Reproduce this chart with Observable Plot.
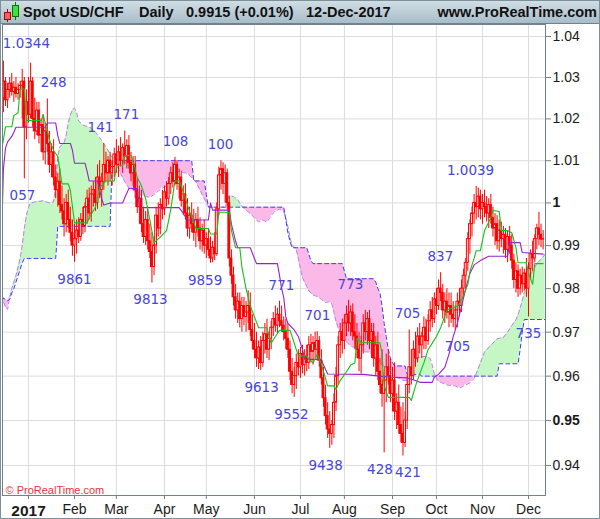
<!DOCTYPE html>
<html><head><meta charset="utf-8">
<script src="https://cdn.jsdelivr.net/npm/d3@7"></script>
<script src="https://cdn.jsdelivr.net/npm/@observablehq/plot@0.6"></script>
<style>
html,body{margin:0;padding:0;background:#fff;}
#wrap{position:relative;width:600px;height:519px;overflow:hidden;font-family:"Liberation Sans",Arial,sans-serif;}
#chart{position:absolute;left:0;top:0;}
#hdr{position:absolute;left:0;top:0;width:600px;height:24px;background:linear-gradient(#d2dfe6,#a8bdc9);border-bottom:1px solid #6f838f;box-sizing:border-box;}
#hdr span{position:absolute;top:3px;line-height:18px;font-weight:bold;font-size:14.5px;color:#111;white-space:nowrap;}
#border{position:absolute;left:0;top:0;width:600px;height:519px;border:1px solid #7d8f99;box-sizing:border-box;pointer-events:none;}
</style></head><body>
<div id="wrap">
<div id="chart"></div>
<div id="hdr">
<svg width="20" height="24" style="position:absolute;left:1px;top:0">
<line x1="6.5" y1="9" x2="6.5" y2="22" stroke="#a00"/>
<rect x="3.5" y="12.5" width="6" height="7" fill="#f06262" stroke="#a00"/>
<line x1="14.5" y1="2" x2="14.5" y2="20" stroke="#070"/>
<rect x="11.5" y="5.5" width="6" height="11" fill="#3fe03f" stroke="#070"/>
</svg>
<span style="left:23px">Spot USD/CHF</span>
<span style="left:139px">Daily</span>
<span style="left:186px">0.9915 (+0.01%)</span>
<span style="left:306px">12-Dec-2017</span>
<span style="right:3px">www.ProRealTime.com</span>
</div>
<div id="border"></div>
</div>
<script>
// trading-day index: 0 = 2 Jan 2017 (first bar = 15 Dec 2016, last = 12 Dec 2017)
const firstIdx = -12, lastIdx = 246;
const opens = [1.0250,1.0290,1.0245,1.0270,1.0285,1.0265,1.0275,1.0260,1.0270,1.0280,1.0290,1.0180,
1.0240,1.0210,1.0290,1.0200,1.0170,1.0220,1.0160,1.0185,1.0120,1.0170,
1.0140,1.0090,1.0120,1.0060,1.0030,1.0050,0.9995,0.9980,0.9950,1.0000,
0.9960,0.9930,0.9900,0.9915,0.9935,0.9920,0.9960,0.9945,0.9990,1.0010,
0.9975,1.0020,1.0030,1.0000,1.0060,1.0030,1.0050,1.0090,1.0070,1.0100,
1.0070,1.0085,1.0115,1.0090,1.0120,1.0100,1.0130,1.0110,1.0135,1.0095,
1.0070,1.0090,1.0030,0.9990,1.0010,0.9950,0.9920,0.9960,0.9910,0.9885,
0.9850,0.9900,0.9970,0.9940,0.9995,0.9985,1.0025,1.0010,1.0045,1.0070,
1.0050,1.0090,1.0045,1.0060,1.0005,1.0020,0.9975,0.9940,0.9970,0.9950,
0.9930,0.9960,0.9940,0.9910,0.9935,0.9900,0.9915,0.9890,0.9870,0.9895,
0.9880,0.9985,1.0065,1.0080,1.0045,1.0070,1.0000,0.9870,0.9830,0.9780,
0.9750,0.9770,0.9730,0.9760,0.9735,0.9745,0.9760,0.9705,0.9680,0.9660,
0.9640,0.9665,0.9630,0.9680,0.9695,0.9660,0.9685,0.9710,0.9730,0.9715,
0.9740,0.9725,0.9715,0.9700,0.9685,0.9660,0.9610,0.9580,0.9600,0.9630,
0.9620,0.9650,0.9625,0.9645,0.9630,0.9670,0.9655,0.9675,0.9660,0.9680,
0.9635,0.9595,0.9550,0.9510,0.9480,0.9470,0.9490,0.9540,0.9600,0.9670,
0.9700,0.9680,0.9720,0.9740,0.9720,0.9745,0.9700,0.9690,0.9660,0.9640,
0.9670,0.9720,0.9700,0.9730,0.9680,0.9700,0.9640,0.9670,0.9610,0.9580,
0.9560,0.9590,0.9620,0.9600,0.9560,0.9590,0.9520,0.9540,0.9490,0.9470,
0.9450,0.9500,0.9580,0.9620,0.9600,0.9660,0.9640,0.9690,0.9670,0.9690,
0.9710,0.9680,0.9725,0.9750,0.9730,0.9775,0.9760,0.9800,0.9790,0.9750,
0.9770,0.9745,0.9760,0.9740,0.9730,0.9750,0.9770,0.9760,0.9800,0.9830,
0.9860,0.9915,0.9950,0.9975,1.0000,0.9990,1.0015,0.9985,1.0000,0.9990,
0.9975,0.9995,0.9965,0.9940,0.9950,0.9910,0.9935,0.9915,0.9925,0.9890,
0.9920,0.9900,0.9865,0.9820,0.9840,0.9800,0.9830,0.9810,0.9835,0.9800,
0.9845,0.9880,0.9870,0.9915,0.9940,0.9925,0.9914];
const highs = [1.0340,1.0300,1.0285,1.0300,1.0310,1.0290,1.0300,1.0285,1.0290,1.0320,1.0300,1.0270,
1.0300,1.0335,1.0300,1.0250,1.0240,1.0240,1.0200,1.0210,1.0190,1.0248,
1.0170,1.0140,1.0150,1.0090,1.0070,1.0080,1.0040,1.0010,1.0020,1.0030,
0.9990,0.9960,0.9950,0.9960,0.9965,0.9975,0.9990,1.0000,1.0030,1.0035,
1.0040,1.0050,1.0060,1.0090,1.0100,1.0070,1.0141,1.0120,1.0110,1.0120,
1.0100,1.0130,1.0150,1.0135,1.0155,1.0140,1.0171,1.0150,1.0160,1.0120,
1.0110,1.0110,1.0060,1.0040,1.0030,0.9990,0.9980,0.9985,0.9950,0.9930,
0.9920,0.9990,1.0000,1.0010,1.0030,1.0040,1.0050,1.0060,1.0085,1.0095,
1.0108,1.0100,1.0080,1.0075,1.0040,1.0045,1.0010,0.9990,1.0000,0.9985,
0.9975,0.9990,0.9965,0.9950,0.9960,0.9930,0.9940,0.9920,0.9910,0.9930,
1.0000,1.0085,1.0100,1.0095,1.0090,1.0080,1.0015,0.9890,0.9850,0.9810,
0.9790,0.9790,0.9780,0.9780,0.9770,0.9795,0.9790,0.9740,0.9720,0.9700,
0.9680,0.9690,0.9700,0.9720,0.9730,0.9700,0.9725,0.9745,0.9760,0.9755,
0.9771,0.9760,0.9735,0.9730,0.9720,0.9680,0.9640,0.9620,0.9650,0.9660,
0.9665,0.9670,0.9660,0.9670,0.9690,0.9695,0.9690,0.9700,0.9701,0.9690,
0.9660,0.9620,0.9580,0.9540,0.9520,0.9500,0.9560,0.9620,0.9690,0.9720,
0.9730,0.9740,0.9760,0.9773,0.9760,0.9765,0.9740,0.9720,0.9700,0.9690,
0.9740,0.9750,0.9745,0.9750,0.9720,0.9720,0.9690,0.9700,0.9640,0.9660,
0.9600,0.9650,0.9660,0.9640,0.9620,0.9630,0.9560,0.9580,0.9530,0.9540,
0.9520,0.9600,0.9705,0.9660,0.9680,0.9700,0.9710,0.9720,0.9700,0.9735,
0.9730,0.9740,0.9770,0.9780,0.9790,0.9800,0.9820,0.9837,0.9810,0.9790,
0.9800,0.9790,0.9790,0.9770,0.9760,0.9790,0.9800,0.9820,0.9845,0.9870,
0.9930,0.9960,0.9990,1.0020,1.0039,1.0035,1.0030,1.0020,1.0030,1.0015,
1.0010,1.0020,0.9990,0.9975,0.9970,0.9960,0.9955,0.9945,0.9940,0.9935,
0.9945,0.9925,0.9880,0.9860,0.9855,0.9845,0.9850,0.9845,0.9870,0.9860,
0.9890,0.9910,0.9925,0.9950,0.9978,0.9950,0.9935];
const lows = [1.0215,1.0230,1.0225,1.0250,1.0255,1.0240,1.0250,1.0245,1.0250,1.0200,1.0057,1.0150,
1.0190,1.0200,1.0180,1.0150,1.0160,1.0140,1.0120,1.0100,1.0090,1.0120,
1.0070,1.0060,1.0040,1.0010,0.9990,0.9975,0.9960,0.9920,0.9930,0.9940,
0.9910,0.9875,0.9861,0.9880,0.9905,0.9910,0.9925,0.9930,0.9950,0.9960,
0.9955,0.9990,0.9980,0.9985,1.0010,0.9990,1.0030,1.0050,1.0040,1.0050,
1.0040,1.0060,1.0070,1.0060,1.0085,1.0070,1.0090,1.0080,1.0080,1.0050,
1.0040,1.0010,0.9975,0.9950,0.9930,0.9905,0.9900,0.9890,0.9870,0.9813,
0.9830,0.9880,0.9920,0.9925,0.9960,0.9970,0.9990,0.9995,1.0020,1.0035,
1.0040,1.0030,1.0010,0.9990,0.9970,0.9960,0.9920,0.9915,0.9930,0.9910,
0.9895,0.9920,0.9890,0.9885,0.9880,0.9870,0.9875,0.9859,0.9860,0.9865,
0.9875,0.9970,1.0030,1.0020,1.0000,0.9985,0.9850,0.9810,0.9760,0.9730,
0.9720,0.9710,0.9700,0.9715,0.9700,0.9720,0.9690,0.9660,0.9640,0.9620,
0.9615,0.9613,0.9620,0.9650,0.9640,0.9635,0.9660,0.9690,0.9700,0.9695,
0.9710,0.9700,0.9680,0.9660,0.9640,0.9590,0.9560,0.9552,0.9570,0.9600,
0.9595,0.9605,0.9600,0.9610,0.9615,0.9630,0.9625,0.9640,0.9635,0.9620,
0.9580,0.9530,0.9490,0.9460,0.9438,0.9445,0.9460,0.9520,0.9580,0.9640,
0.9650,0.9660,0.9690,0.9700,0.9690,0.9680,0.9660,0.9640,0.9610,0.9605,
0.9650,0.9680,0.9670,0.9660,0.9640,0.9620,0.9600,0.9590,0.9560,0.9530,
0.9428,0.9540,0.9580,0.9540,0.9520,0.9500,0.9480,0.9470,0.9450,0.9421,
0.9440,0.9480,0.9560,0.9580,0.9590,0.9620,0.9630,0.9650,0.9640,0.9660,
0.9660,0.9670,0.9700,0.9710,0.9720,0.9740,0.9750,0.9770,0.9730,0.9720,
0.9730,0.9710,0.9720,0.9710,0.9705,0.9710,0.9735,0.9745,0.9780,0.9800,
0.9840,0.9880,0.9920,0.9950,0.9960,0.9965,0.9960,0.9950,0.9965,0.9955,
0.9940,0.9950,0.9920,0.9900,0.9890,0.9885,0.9895,0.9880,0.9870,0.9860,
0.9880,0.9845,0.9800,0.9790,0.9780,0.9785,0.9790,0.9795,0.9780,0.9735,
0.9820,0.9840,0.9860,0.9890,0.9900,0.9895,0.9890];
const closes = [1.0290,1.0245,1.0270,1.0285,1.0265,1.0275,1.0260,1.0270,1.0280,1.0290,1.0180,1.0240,
1.0210,1.0290,1.0200,1.0170,1.0220,1.0160,1.0185,1.0120,1.0170,1.0140,
1.0090,1.0120,1.0060,1.0030,1.0050,0.9995,0.9980,0.9950,1.0000,0.9960,
0.9930,0.9900,0.9915,0.9935,0.9920,0.9960,0.9945,0.9990,1.0010,0.9975,
1.0020,1.0030,1.0000,1.0060,1.0030,1.0050,1.0090,1.0070,1.0100,1.0070,
1.0085,1.0115,1.0090,1.0120,1.0100,1.0130,1.0110,1.0135,1.0095,1.0070,
1.0090,1.0030,0.9990,1.0010,0.9950,0.9920,0.9960,0.9910,0.9885,0.9850,
0.9900,0.9970,0.9940,0.9995,0.9985,1.0025,1.0010,1.0045,1.0070,1.0050,
1.0090,1.0045,1.0060,1.0005,1.0020,0.9975,0.9940,0.9970,0.9950,0.9930,
0.9960,0.9940,0.9910,0.9935,0.9900,0.9915,0.9890,0.9870,0.9895,0.9880,
0.9985,1.0065,1.0080,1.0045,1.0070,1.0000,0.9870,0.9830,0.9780,0.9750,
0.9770,0.9730,0.9760,0.9735,0.9745,0.9760,0.9705,0.9680,0.9660,0.9640,
0.9665,0.9630,0.9680,0.9695,0.9660,0.9685,0.9710,0.9730,0.9715,0.9740,
0.9725,0.9715,0.9700,0.9685,0.9660,0.9610,0.9580,0.9600,0.9630,0.9620,
0.9650,0.9625,0.9645,0.9630,0.9670,0.9655,0.9675,0.9660,0.9680,0.9635,
0.9595,0.9550,0.9510,0.9480,0.9470,0.9490,0.9540,0.9600,0.9670,0.9700,
0.9680,0.9720,0.9740,0.9720,0.9745,0.9700,0.9690,0.9660,0.9640,0.9670,
0.9720,0.9700,0.9730,0.9680,0.9700,0.9640,0.9670,0.9610,0.9580,0.9560,
0.9590,0.9620,0.9600,0.9560,0.9590,0.9520,0.9540,0.9490,0.9470,0.9450,
0.9500,0.9580,0.9620,0.9600,0.9660,0.9640,0.9690,0.9670,0.9690,0.9710,
0.9680,0.9725,0.9750,0.9730,0.9775,0.9760,0.9800,0.9790,0.9750,0.9770,
0.9745,0.9760,0.9740,0.9730,0.9750,0.9770,0.9760,0.9800,0.9830,0.9860,
0.9915,0.9950,0.9975,1.0000,0.9990,1.0015,0.9985,1.0000,0.9990,0.9975,
0.9995,0.9965,0.9940,0.9950,0.9910,0.9935,0.9915,0.9925,0.9890,0.9920,
0.9900,0.9865,0.9820,0.9840,0.9800,0.9830,0.9810,0.9835,0.9800,0.9845,
0.9880,0.9870,0.9915,0.9940,0.9925,0.9914,0.9915];

// Tenkan-sen (green) and Kijun-sen (purple)
const tenkanIdx = [-13,-12,-11,-8,-7,-5,-4,-2,-1,6,7,8,10,12,14,16,19,20,22,28,29,32,34,37,41,42,45,46,49,50,52,54,56,58,60,63,66,68,70,72,73,75,77,79,80,86,87,90,91,96,97,99,101,102,104,106,108,110,114,115,116,118,120,125,126,128,129,133,134,136,138,140,143,146,147,149,152,154,156,157,159,168,169,170,172,182,183,185,187,189,191,193,195,197,200,205,206,208,210,211,213,214,216,218,221,222,225,226,229,231,233,234,238,239,241,242,246];
const tenkanVal = [1.0120,1.0150,1.0181,1.0181,1.0208,1.0215,1.0272,1.0272,1.0196,1.0196,1.0210,1.0190,1.0150,1.0124,1.0110,1.0045,1.0045,1.0030,0.9953,0.9953,0.9965,0.9990,1.0036,1.0052,1.0052,1.0088,1.0088,1.0112,1.0112,1.0100,1.0060,1.0040,1.0010,0.9960,0.9907,0.9920,0.9935,0.9985,1.0052,1.0052,1.0040,1.0010,0.9980,0.9955,0.9940,0.9940,0.9927,0.9927,0.9978,0.9978,0.9935,0.9895,0.9895,0.9850,0.9800,0.9760,0.9735,0.9710,0.9710,0.9690,0.9675,0.9690,0.9704,0.9704,0.9690,0.9660,0.9646,0.9646,0.9638,0.9630,0.9650,0.9627,0.9578,0.9578,0.9570,0.9590,0.9610,0.9625,0.9630,0.9686,0.9676,0.9676,0.9650,0.9578,0.9552,0.9552,0.9545,0.9578,0.9605,0.9630,0.9660,0.9675,0.9690,0.9710,0.9750,0.9760,0.9765,0.9785,0.9810,0.9840,0.9870,0.9888,0.9888,0.9935,0.9965,0.9982,0.9980,0.9935,0.9935,0.9930,0.9895,0.9860,0.9860,0.9835,0.9810,0.9858,0.9858];
const kijunIdx = [-13,-12,-11,-10,-8,-7,-6,8,9,13,14,15,20,21,22,27,28,29,33,34,35,36,39,45,46,48,52,53,72,74,76,86,87,88,96,97,99,100,106,108,109,119,120,121,122,123,124,127,129,131,132,140,141,142,143,160,168,172,181,185,187,193,194,196,199,201,203,205,207,209,211,213,216,220,229,230,235,236,246];
const kijunVal = [0.9890,1.0080,1.0130,1.0145,1.0158,1.0168,1.0180,1.0180,1.0190,1.0190,1.0160,1.0141,1.0141,1.0125,1.0094,1.0094,1.0075,1.0052,1.0052,1.0030,1.0010,0.9995,1.0000,1.0000,1.0012,1.0034,1.0034,0.9989,0.9989,0.9975,0.9960,0.9960,1.0000,0.9983,0.9983,0.9950,0.9910,0.9895,0.9895,0.9870,0.9858,0.9858,0.9830,0.9800,0.9780,0.9735,0.9720,0.9705,0.9690,0.9660,0.9638,0.9638,0.9625,0.9615,0.9605,0.9604,0.9600,0.9598,0.9596,0.9590,0.9586,0.9586,0.9598,0.9604,0.9620,0.9650,0.9690,0.9720,0.9760,0.9800,0.9835,0.9855,0.9865,0.9875,0.9875,0.9907,0.9907,0.9884,0.9880];

// Senkou span A (violet dashed) and span B (blue dashed), plotted shifted forward
const cloudIdx = [-13,-12,-11,-10,-9,-8,-7,-6,-5,-4,-3,-2,-1,0,1,4,7,10,12,13,14,15,17,18,19,20,21,22,23,24,26,28,30,32,34,36,38,39,40,41,42,44,46,48,50,52,54,56,58,60,62,64,66,68,70,72,74,76,78,79,80,82,84,85,86,88,94,95,96,98,100,102,104,106,108,110,112,114,116,118,120,122,123,124,125,126,128,129,130,131,132,133,134,135,136,138,140,142,144,145,146,147,148,149,150,151,152,154,156,158,160,163,165,166,167,168,169,170,171,172,173,174,175,177,179,180,181,182,183,184,186,187,188,190,192,193,194,195,196,200,204,206,208,211,213,214,216,218,221,224,225,227,229,231,233,234,235,236,237,239,241,243,245,247];
const spanA = [0.9800,0.9770,0.9757,0.9752,0.9780,0.9800,0.9815,0.9830,0.9850,0.9870,0.9900,0.9940,0.9970,0.9990,1.0000,1.0003,1.0005,1.0000,1.0002,1.0040,1.0110,1.0133,1.0143,1.0160,1.0190,1.0210,1.0222,1.0226,1.0215,1.0195,1.0185,1.0182,1.0178,1.0168,1.0155,1.0140,1.0125,1.0115,1.0108,1.0100,1.0090,1.0070,1.0050,1.0035,1.0030,1.0025,1.0018,1.0015,1.0013,1.0020,1.0028,1.0035,1.0040,1.0060,1.0070,1.0075,1.0072,1.0070,1.0060,1.0055,1.0050,1.0030,1.0010,1.0000,0.9992,0.9990,0.9990,1.0005,1.0018,1.0015,1.0008,0.9992,0.9983,0.9975,0.9965,0.9955,0.9960,0.9955,0.9970,0.9982,0.9985,0.9980,0.9965,0.9945,0.9920,0.9900,0.9890,0.9870,0.9845,0.9825,0.9815,0.9805,0.9795,0.9790,0.9785,0.9782,0.9775,0.9768,0.9770,0.9765,0.9745,0.9725,0.9710,0.9700,0.9690,0.9685,0.9678,0.9668,0.9665,0.9660,0.9655,0.9655,0.9645,0.9640,0.9635,0.9630,0.9625,0.9620,0.9615,0.9612,0.9608,0.9604,0.9600,0.9595,0.9590,0.9590,0.9590,0.9598,0.9610,0.9630,0.9642,0.9643,0.9644,0.9645,0.9640,0.9625,0.9605,0.9595,0.9588,0.9580,0.9578,0.9573,0.9578,0.9585,0.9595,0.9605,0.9630,0.9655,0.9670,0.9685,0.9686,0.9688,0.9700,0.9715,0.9728,0.9740,0.9755,0.9772,0.9790,0.9825,0.9840,0.9858,0.9868,0.9880];
const spanB = [0.9780,0.9778,0.9775,0.9772,0.9775,0.9790,0.9800,0.9815,0.9830,0.9845,0.9860,0.9870,0.9870,0.9870,0.9870,0.9870,0.9870,0.9870,0.9870,0.9870,0.9945,0.9945,0.9945,0.9945,0.9945,0.9945,0.9945,0.9945,0.9945,0.9945,0.9945,0.9945,0.9945,0.9945,0.9945,0.9945,0.9945,0.9945,1.0100,1.0100,1.0100,1.0100,1.0100,1.0100,1.0100,1.0100,1.0100,1.0100,1.0100,1.0100,1.0100,1.0100,1.0100,1.0100,1.0100,1.0100,1.0100,1.0100,1.0100,1.0052,1.0052,1.0052,1.0052,1.0020,0.9990,0.9990,0.9990,0.9990,0.9990,0.9990,0.9990,0.9990,0.9990,0.9990,0.9990,0.9990,0.9990,0.9990,0.9990,0.9990,0.9990,0.9990,0.9960,0.9930,0.9910,0.9895,0.9895,0.9895,0.9895,0.9895,0.9895,0.9895,0.9880,0.9865,0.9858,0.9858,0.9858,0.9858,0.9858,0.9858,0.9858,0.9858,0.9858,0.9858,0.9858,0.9840,0.9823,0.9823,0.9823,0.9823,0.9823,0.9823,0.9823,0.9815,0.9800,0.9790,0.9760,0.9720,0.9690,0.9660,0.9640,0.9630,0.9623,0.9623,0.9623,0.9623,0.9604,0.9604,0.9604,0.9604,0.9604,0.9604,0.9600,0.9600,0.9600,0.9600,0.9600,0.9600,0.9600,0.9600,0.9600,0.9600,0.9600,0.9600,0.9600,0.9600,0.9600,0.9600,0.9600,0.9600,0.9628,0.9628,0.9628,0.9628,0.9628,0.9628,0.9660,0.9700,0.9729,0.9729,0.9729,0.9729,0.9729,0.9729];

// swing-point annotations
const labelText  = ["1.0344","248","141","171","108","100","771","701","773","705","837","1.0039",
                    "057","9861","9813","9859","9613","9552","9438","428","421","705","735"];
const labelIdx   = [-1,12,34.4,46.8,70.3,91.8,120.9,138.1,153.9,181.2,196.9,211.3,
                    -2.9,22,58.3,84.4,111.4,125.7,142,168,181.4,205.1,239];
const labelPrice = [1.0344,1.0248,1.0141,1.0171,1.0108,1.0100,0.9771,0.9701,0.9773,0.9705,0.9837,1.0039,
                    1.0057,0.9861,0.9813,0.9859,0.9613,0.9552,0.9438,0.9428,0.9421,0.9705,0.9735];
const labelSide  = ["H","H","H","H","H","H","H","H","H","H","H","H",
                    "L","L","L","L","L","L","L","L","L","L","L"];

const yTicks = [0.94,0.95,0.96,0.97,0.98,0.99,1.00,1.01,1.02,1.03,1.04];
const monthIdx = [0,22,42,65,85,108,130,151,174,195,217,239];
const monthLabels = ["2017","Feb","Mar","Apr","May","Jun","Jul","Aug","Sep","Oct","Nov","Dec"];

const bars = opens.map((o,k)=>({i:firstIdx+k,o,h:highs[k],l:lows[k],c:closes[k]}));
const up = bars.filter(d=>d.c>=d.o), down = bars.filter(d=>d.c<d.o);
const cloud = cloudIdx.map((i,k)=>({i,a:spanA[k],b:spanB[k]}));
const tenkan = tenkanIdx.map((i,k)=>({i,v:tenkanVal[k]}));
const kijun = kijunIdx.map((i,k)=>({i,v:kijunVal[k]}));
const labels = labelText.map((t,k)=>({t,i:labelIdx[k],v:labelPrice[k],s:labelSide[k]}));

const axisGray = "#6f828d";
const chart = Plot.plot({
  width:600, height:519,
  marginLeft:2, marginRight:55, marginTop:24, marginBottom:24,
  style:{fontFamily:"'Liberation Sans',Arial,sans-serif",fontSize:"14px",color:"#1a1a1a",background:"transparent"},
  x:{domain:[-12.43,247.13], axis:null},
  y:{type:"log", domain:[0.93337,1.04295], axis:null},
  marks:[
    Plot.gridY(yTicks,{stroke:"#dcdcdc",strokeOpacity:1}),
    Plot.gridX(monthIdx,{stroke:"#dcdcdc",strokeOpacity:1}),
    Plot.areaY(cloud,{x:"i",y1:"b",y2:d=>Math.max(d.a,d.b),fill:"#c4f7c4",clip:true}),
    Plot.areaY(cloud,{x:"i",y1:"a",y2:d=>Math.max(d.a,d.b),fill:"#fab9e8",clip:true}),
    Plot.line(cloud,{x:"i",y:"a",stroke:"#c07ef2",strokeWidth:1,strokeDasharray:"4,3",clip:true}),
    Plot.line(cloud,{x:"i",y:"b",stroke:"#3b3bee",strokeWidth:1,strokeDasharray:"4,3",clip:true}),
    Plot.ruleX(bars,{x:"i",y1:"l",y2:"h",stroke:"#ff0000",strokeWidth:1,clip:true}),
    Plot.rect(down,{x1:d=>d.i-0.45,x2:d=>d.i+0.45,y1:"c",y2:"o",fill:"#ff0000",stroke:"#ff0000",strokeWidth:1,clip:true}),
    Plot.rect(up,{x1:d=>d.i-0.45,x2:d=>d.i+0.45,y1:"o",y2:"c",fill:"#ffffff",stroke:"#ff0000",strokeWidth:1,clip:true}),
    Plot.line(kijun,{x:"i",y:"v",stroke:"#9c1fcc",strokeWidth:1.1,clip:true}),
    Plot.line(tenkan,{x:"i",y:"v",stroke:"#16c016",strokeWidth:1.1,clip:true}),
    Plot.text(labels.filter(d=>d.s==="H"),{x:"i",y:"v",text:"t",dy:-16,fill:"#4646d9",fontSize:13.5,fontFamily:"'DejaVu Sans',sans-serif",clip:true}),
    Plot.text(labels.filter(d=>d.s==="L"),{x:"i",y:"v",text:"t",dy:17,fill:"#4646d9",fontSize:13.5,fontFamily:"'DejaVu Sans',sans-serif",clip:true}),
    Plot.text(["© ProRealTime.com"],{text:d=>d,frameAnchor:"bottom-left",dx:3,dy:-2,lineAnchor:"bottom",fill:"#e8323c",fontSize:11}),
    Plot.axisY(yTicks,{anchor:"right",tickSize:5,tickPadding:2,stroke:axisGray,fill:"#1a1a1a",fontSize:14,label:null,
      tickFormat:d=>d3.format(".2~f")(d)}),
    Plot.axisX(monthIdx,{anchor:"bottom",tickSize:4,tickPadding:5,stroke:axisGray,fill:"#1a1a1a",fontSize:14,label:null,
      tickFormat:d=>monthLabels[monthIdx.indexOf(d)]}),
    Plot.frame({stroke:axisGray})
  ]
});
d3.select(chart).selectAll("text").each(function(){
  const t=this.textContent;
  if(t==="1"||t==="0.95"){this.setAttribute("font-weight","bold");}
  if(t==="2017"){this.setAttribute("font-weight","bold");this.setAttribute("font-size","15.5");}
});
document.getElementById("chart").appendChild(chart);
</script>
</body></html>
